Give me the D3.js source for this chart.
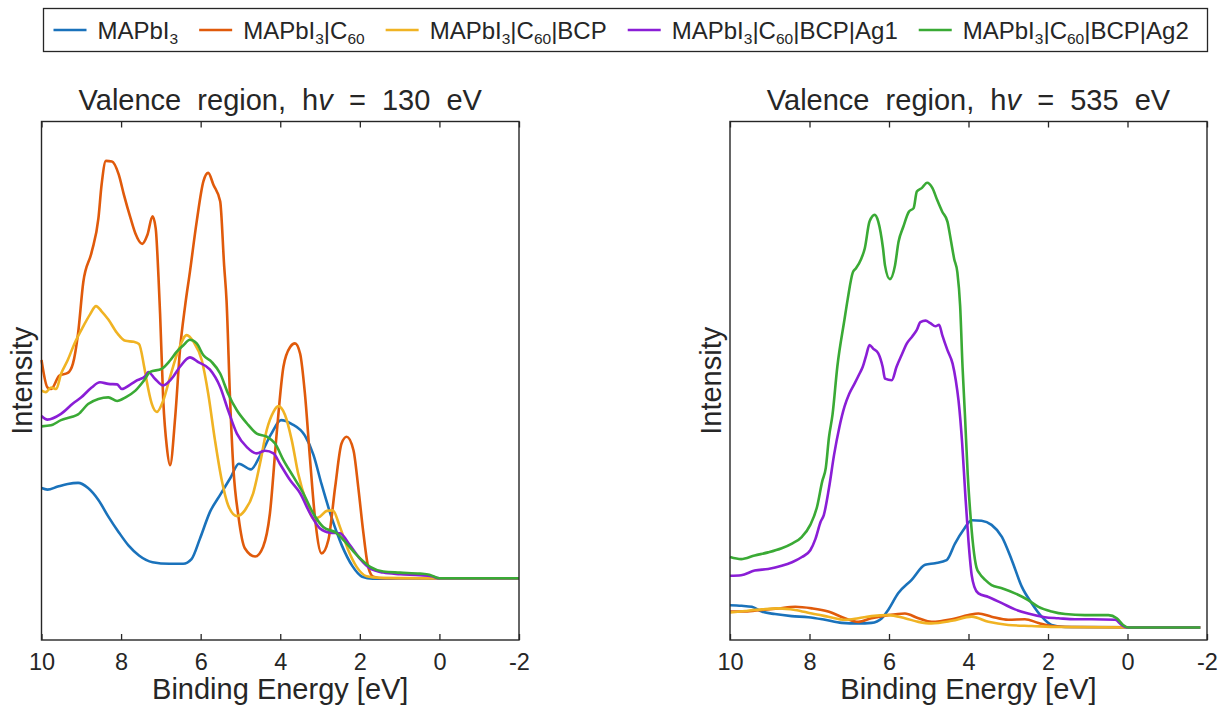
<!DOCTYPE html>
<html>
<head>
<meta charset="utf-8">
<script src="https://cdn.jsdelivr.net/npm/d3@7"></script>
<style>
  html, body { margin: 0; padding: 0; background: #ffffff; }
  svg text { font-family: "Liberation Sans", Arial, Helvetica, sans-serif; fill: #262626; }
</style>
</head>
<body>
<svg id="chart" width="1227" height="713"></svg>
<script>
// ---- series labels and colours ----
const seriesNames = [
  { parts: [["MAPbI", 0], ["3", 1]] },
  { parts: [["MAPbI", 0], ["3", 1], ["|C", 0], ["60", 1]] },
  { parts: [["MAPbI", 0], ["3", 1], ["|C", 0], ["60", 1], ["|BCP", 0]] },
  { parts: [["MAPbI", 0], ["3", 1], ["|C", 0], ["60", 1], ["|BCP|Ag1", 0]] },
  { parts: [["MAPbI", 0], ["3", 1], ["|C", 0], ["60", 1], ["|BCP|Ag2", 0]] }
];
const seriesColors = ["#1a72bb", "#e05a0b", "#f0b323", "#8a1ed6", "#3aaa35"];

// ---- x axis ticks (binding energy, eV) ----
const energyTicks = [10, 8, 6, 4, 2, 0, -2];

// ---- valence spectra, h nu = 130 eV : [binding energy, intensity (a.u.)] ----
const mapbi3_130 = [
  [10,29.3],[9.85,29.0],[9.59,29.6],[9.34,30.1],[9.08,30.3],[8.83,29.3],[8.57,27.0],[8.32,23.8],
  [8.06,20.8],[7.81,18.2],[7.55,16.3],[7.21,15.0],[6.79,14.7],[6.44,14.7],[6.23,15.6],[6.02,19.5],
  [5.76,24.8],[5.51,28.0],[5.25,31.3],[5.04,34.0],[4.74,32.9],[4.49,35.8],[4.23,39.7],[3.98,42.4],
  [3.72,41.7],[3.38,39.4],[3.17,35.8],[2.96,30.0],[2.70,23.4],[2.45,18.2],[2.19,14.3],[1.94,12.2],
  [1.68,11.8],[1.0,11.9],[0,11.9],[-1,11.9],[-2,11.9]
];
const c60_130 = [
  [10,54.0],[9.85,48.7],[9.76,48.4],[9.55,51.0],[9.34,51.5],[9.21,53.3],[9.08,59.2],[8.95,69.0],
  [8.74,74.8],[8.57,81.3],[8.49,87.8],[8.38,92.4],[8.23,92.3],[8.06,89.8],[7.93,85.9],[7.76,81.3],
  [7.64,78.4],[7.47,76.4],[7.34,78.1],[7.21,81.7],[7.13,79.4],[7.06,70.0],[7.02,63.0],[6.94,46.2],
  [6.85,37.2],[6.77,33.7],[6.64,43.0],[6.52,55.9],[6.39,64.5],[6.27,71.0],[6.10,80.7],[5.93,88.5],
  [5.81,90.1],[5.68,87.8],[5.51,84.6],[5.41,72.2],[5.35,65.5],[5.26,46.2],[5.18,33.4],[5.05,23.8],
  [4.89,17.7],[4.63,16.1],[4.43,18.0],[4.26,24.4],[4.09,39.8],[3.92,52.7],[3.75,56.5],[3.63,57.2],
  [3.50,55.2],[3.38,47.5],[3.25,34.7],[3.13,23.8],[2.96,16.7],[2.79,19.3],[2.62,29.5],[2.46,37.9],
  [2.33,39.2],[2.16,36.6],[2.04,29.5],[1.91,20.6],[1.79,14.1],[1.66,12.2],[1.4,11.9],[0,11.9],[-2,11.9]
];
const bcp_130 = [
  [10,48.1],[9.89,47.8],[9.76,48.7],[9.63,48.4],[9.51,51.3],[9.34,54.0],[9.17,57.2],[8.95,60.5],
  [8.78,62.8],[8.63,64.4],[8.49,63.4],[8.32,61.8],[8.10,59.2],[7.89,57.7],[7.68,57.5],[7.55,57.1],
  [7.42,52.7],[7.36,50.1],[7.23,45.6],[7.10,44.0],[6.94,46.2],[6.77,50.7],[6.56,55.9],[6.35,58.8],
  [6.18,57.5],[5.97,53.9],[5.81,47.5],[5.64,38.5],[5.47,30.8],[5.31,26.0],[5.09,23.9],[4.89,25.0],
  [4.68,28.3],[4.51,34.0],[4.34,40.5],[4.17,44.0],[4.05,45.1],[3.88,43.4],[3.71,38.5],[3.55,32.1],
  [3.33,26.3],[3.17,23.4],[3.00,23.8],[2.83,24.9],[2.68,25.0],[2.50,21.8],[2.29,17.3],[2.08,14.1],
  [1.83,12.3],[1.49,12.0],[0,11.9],[-2,11.9]
];
const ag1_130 = [
  [10,43.2],[9.85,42.5],[9.51,43.6],[9.21,45.6],[9.0,46.8],[8.74,48.7],[8.53,49.7],[8.32,49.4],
  [8.10,49.3],[7.98,48.4],[7.76,49.3],[7.59,50.1],[7.38,51.0],[7.32,51.7],[7.15,50.4],[6.94,49.1],
  [6.73,50.4],[6.52,52.7],[6.27,54.5],[6.06,53.6],[5.77,52.2],[5.51,48.8],[5.31,44.3],[5.09,39.8],
  [4.84,37.2],[4.59,36.0],[4.38,36.5],[4.17,36.0],[4.01,34.0],[3.75,30.8],[3.50,28.3],[3.25,24.4],
  [3.00,21.5],[2.75,20.7],[2.50,20.6],[2.25,18.3],[2.00,15.7],[1.74,13.8],[1.41,13.0],[0.99,12.7],
  [0.49,12.5],[0.2,12.3],[0.0,11.9],[-2,11.9]
];
const ag2_130 = [
  [10,41.2],[9.76,41.4],[9.51,42.4],[9.25,43.0],[9.08,43.5],[8.83,45.5],[8.57,46.5],[8.32,46.8],
  [8.10,46.1],[7.89,46.8],[7.64,48.1],[7.42,50.1],[7.27,51.7],[6.98,52.3],[6.77,53.9],[6.60,55.6],
  [6.44,56.8],[6.27,57.9],[6.10,57.2],[5.93,54.9],[5.72,53.6],[5.51,51.4],[5.31,47.5],[5.09,44.3],
  [4.84,41.8],[4.59,39.8],[4.34,39.2],[4.13,37.9],[3.92,34.7],[3.67,31.5],[3.42,28.3],[3.17,24.4],
  [2.92,21.8],[2.58,20.6],[2.33,18.6],[2.08,16.4],[1.74,14.1],[1.41,13.2],[0.99,13.0],[0.49,12.8],
  [0.25,12.6],[0.0,11.9],[-2,11.9]
];

// ---- valence spectra, h nu = 535 eV ----
const mapbi3_535 = [
  [10,6.7],[9.71,6.6],[9.45,6.4],[9.20,5.5],[8.87,5.0],[8.45,4.6],[8.03,4.4],[7.61,3.9],[7.19,3.3],
  [6.77,3.2],[6.44,3.3],[6.18,4.2],[6.02,5.8],[5.77,9.0],[5.43,11.6],[5.09,14.5],[4.84,14.8],
  [4.55,15.4],[4.34,18.6],[4.13,21.2],[3.92,23.1],[3.67,23.0],[3.42,22.2],[3.16,19.9],[2.91,15.4],
  [2.66,10.3],[2.41,7.1],[2.16,4.5],[1.91,2.9],[1.57,2.5],[-1.83,2.4]
];
const c60_535 = [
  [10,5.5],[9.62,5.5],[9.20,5.8],[8.78,6.1],[8.36,6.4],[7.94,6.1],[7.53,5.5],[7.11,4.2],[6.77,3.5],
  [6.44,4.2],[6.02,4.8],[5.60,5.1],[5.26,4.2],[4.93,3.5],[4.42,4.0],[4.00,4.8],[3.75,5.1],[3.42,4.5],
  [3.00,3.9],[2.58,4.0],[2.24,3.3],[1.91,2.7],[1.41,2.5],[-1.83,2.4]
];
const bcp_535 = [
  [10,5.3],[9.62,5.6],[9.20,5.9],[8.78,6.1],[8.36,5.8],[7.94,5.1],[7.53,4.5],[7.11,3.9],[6.77,4.2],
  [6.44,4.6],[6.02,4.8],[5.60,4.2],[5.26,3.5],[4.93,3.2],[4.42,3.7],[3.92,4.5],[3.50,3.5],[3.00,2.9],
  [2.41,2.7],[1.74,2.5],[-1.83,2.4]
];
const ag1_535 = [
  [10,12.4],[9.72,12.5],[9.38,13.4],[9.04,13.7],[8.70,14.3],[8.44,15.0],[8.19,16.0],[7.98,17.3],
  [7.85,19.5],[7.72,22.8],[7.64,24.1],[7.51,29.3],[7.38,35.8],[7.25,41.0],[7.12,45.0],[7.00,47.5],
  [6.87,49.4],[6.74,51.4],[6.66,52.7],[6.57,55.0],[6.49,56.9],[6.40,56.2],[6.27,55.3],[6.16,52.7],
  [6.10,50.4],[5.93,50.1],[5.81,52.7],[5.68,55.0],[5.55,57.2],[5.42,58.5],[5.30,59.8],[5.21,61.3],
  [5.08,61.6],[4.96,61.1],[4.83,60.5],[4.74,60.8],[4.66,58.8],[4.53,55.9],[4.40,53.3],[4.32,50.1],
  [4.25,46.1],[4.16,38.0],[4.08,28.0],[4.00,19.0],[3.92,12.5],[3.85,10.2],[3.75,9.0],[3.50,8.3],
  [3.16,7.1],[2.83,5.9],[2.50,5.1],[2.08,4.4],[1.74,4.2],[1.32,4.0],[0.90,4.0],[0.31,3.9],[0.15,2.9],
  [0.02,2.4],[-1.83,2.4]
];
const ag2_535 = [
  [10,16.0],[9.72,15.6],[9.38,16.3],[9.04,16.9],[8.70,17.7],[8.44,18.6],[8.19,19.9],[7.98,22.2],
  [7.81,25.7],[7.68,30.6],[7.59,33.2],[7.51,39.1],[7.42,43.5],[7.30,52.7],[7.12,61.8],[7.04,65.7],
  [6.91,70.9],[6.83,71.7],[6.70,73.5],[6.61,75.5],[6.49,80.7],[6.36,82.0],[6.27,80.7],[6.15,75.5],
  [6.10,72.2],[5.98,69.6],[5.85,72.2],[5.76,76.8],[5.64,79.7],[5.50,82.6],[5.38,83.3],[5.30,86.5],
  [5.17,87.2],[5.04,88.2],[4.91,87.2],[4.79,84.9],[4.66,82.6],[4.53,80.7],[4.45,77.4],[4.36,73.5],
  [4.28,70.9],[4.21,64.4],[4.15,52.7],[4.09,43.5],[4.02,32.0],[3.96,25.0],[3.88,18.0],[3.80,14.0],
  [3.72,12.8],[3.58,11.6],[3.42,10.6],[3.16,10.0],[2.83,9.0],[2.50,7.7],[2.24,6.4],[1.91,5.5],
  [1.57,5.0],[1.07,4.8],[0.48,4.8],[0.27,4.2],[0.11,2.9],[-0.02,2.4],[-1.83,2.4]
];

const panels = [
  { photon: "130", left: 41.5, right: 519, series: [mapbi3_130, c60_130, bcp_130, ag1_130, ag2_130] },
  { photon: "535", left: 730, right: 1207, series: [mapbi3_535, c60_535, bcp_535, ag1_535, ag2_535] }
];

const svg = d3.select("#chart");
const axTop = 121.5, axBottom = 640;
const ink = "#262626";

panels.forEach(p => {
  const x = d3.scaleLinear().domain([10, -2]).range([p.left, p.right]);
  const y = d3.scaleLinear().domain([0, 100]).range([axBottom, axTop]);
  const g = svg.append("g");

  const line = d3.line()
    .x(d => x(d[0]))
    .y(d => y(d[1]))
    .curve(d3.curveMonotoneX);

  p.series.forEach((s, i) => {
    g.append("path")
      .datum(s)
      .attr("fill", "none")
      .attr("stroke", seriesColors[i])
      .attr("stroke-width", 2.6)
      .attr("stroke-linejoin", "round")
      .attr("d", line);
  });

  // bottom axis with inward ticks
  const bottom = g.append("g")
    .attr("transform", `translate(0,${axBottom})`)
    .call(d3.axisBottom(x).tickValues(energyTicks).tickFormat(d => String(d))
      .tickSizeInner(-6).tickSizeOuter(0).tickPadding(13));
  bottom.select(".domain").remove();
  bottom.selectAll(".tick line").attr("stroke", ink).attr("stroke-width", 1.3);
  bottom.selectAll(".tick text")
    .attr("font-size", 23.5).attr("fill", ink)
    .attr("font-family", "Liberation Sans, Arial, sans-serif");

  // mirrored ticks along the top edge
  const top = g.append("g")
    .attr("transform", `translate(0,${axTop})`)
    .call(d3.axisTop(x).tickValues(energyTicks).tickFormat("")
      .tickSizeInner(-6).tickSizeOuter(0));
  top.select(".domain").remove();
  top.selectAll(".tick line").attr("stroke", ink).attr("stroke-width", 1.3);

  // axes box
  g.append("rect")
    .attr("x", p.left).attr("y", axTop)
    .attr("width", p.right - p.left).attr("height", axBottom - axTop)
    .attr("fill", "none").attr("stroke", ink).attr("stroke-width", 1.4);

  const cx = (p.left + p.right) / 2;

  // title
  const title = g.append("text")
    .attr("x", cx).attr("y", 110)
    .attr("text-anchor", "middle")
    .attr("font-size", 29)
    .style("white-space", "pre");
  title.append("tspan").text("Valence  region,  h");
  title.append("tspan").attr("font-style", "italic").text("v");
  title.append("tspan").text(`  =  ${p.photon}  eV`);

  // axis labels
  g.append("text")
    .attr("x", cx).attr("y", 699)
    .attr("text-anchor", "middle")
    .attr("font-size", 29)
    .text("Binding Energy [eV]");

  g.append("text")
    .attr("transform", `translate(${p.left - 9.5},${(axTop + axBottom) / 2}) rotate(-90)`)
    .attr("text-anchor", "middle")
    .attr("font-size", 29)
    .text("Intensity");
});

// ---- legend ----
const legend = svg.append("g");
const legBox = legend.append("rect")
  .attr("fill", "#ffffff").attr("stroke", ink).attr("stroke-width", 1.3);
const legY = 30, legBase = 38.5;
let cursor = 53.5;
seriesNames.forEach((s, i) => {
  legend.append("line")
    .attr("x1", cursor).attr("x2", cursor + 33)
    .attr("y1", legY).attr("y2", legY)
    .attr("stroke", seriesColors[i]).attr("stroke-width", 2.6);
  const t = legend.append("text")
    .attr("x", cursor + 44).attr("y", legBase)
    .attr("font-size", 24);
  s.parts.forEach(([txt, sub], k) => {
    const ts = t.append("tspan").text(txt);
    if (sub) ts.attr("font-size", 15.5).attr("dy", 5);
    else if (k > 0) ts.attr("dy", -5);
  });
  cursor = cursor + 44 + t.node().getComputedTextLength() + 21;
});
legBox.attr("x", 43.5).attr("y", 8.5)
  .attr("width", 1207.5 - 43.5).attr("height", 43);
</script>
</body>
</html>
